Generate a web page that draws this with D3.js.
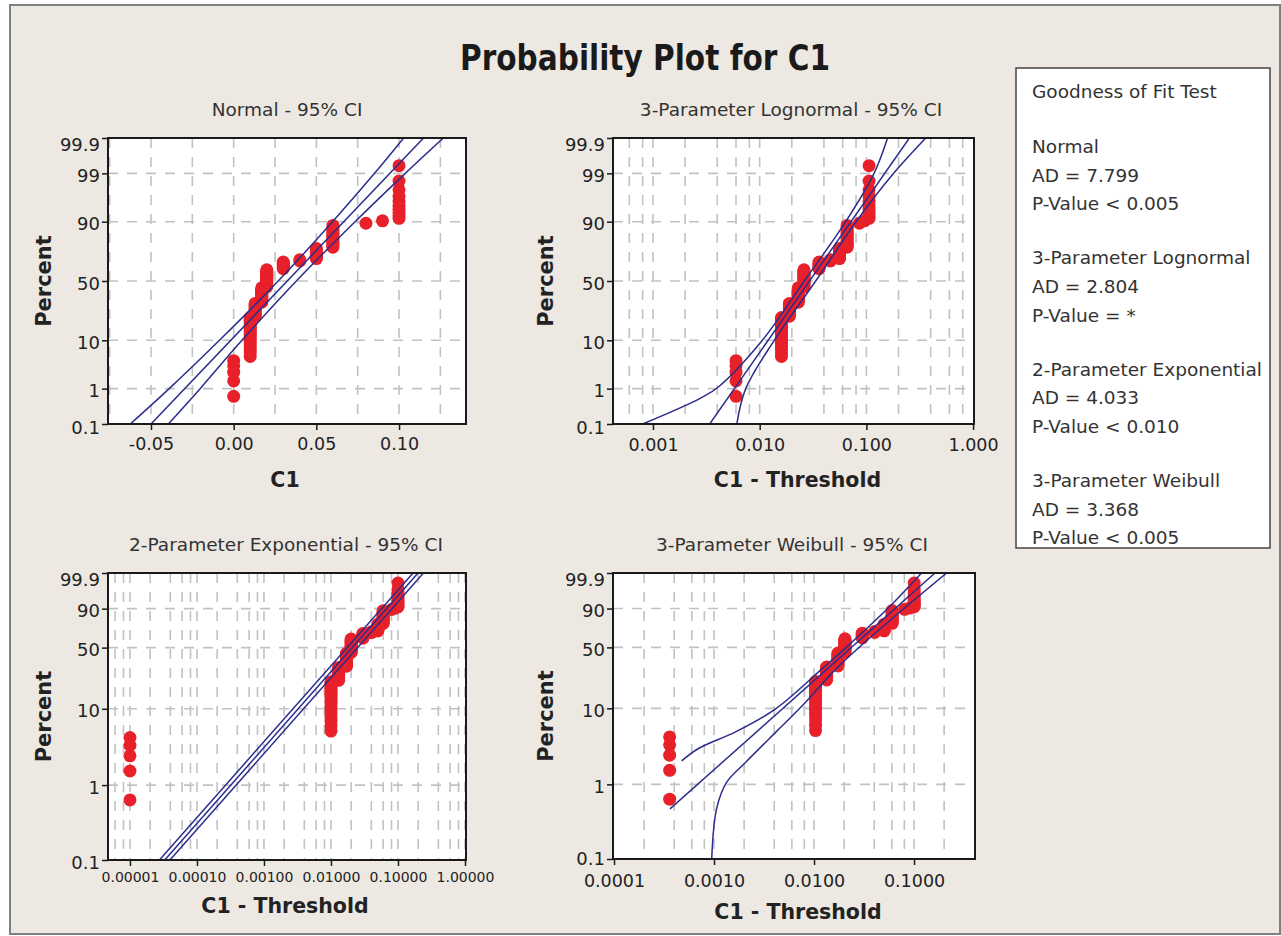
<!DOCTYPE html>
<html>
<head>
<meta charset="utf-8">
<script src="https://cdn.jsdelivr.net/npm/d3@7"></script>
<style>
  body { margin: 0; background: #fff; }
  text { font-family: "DejaVu Sans", sans-serif; }
</style>
</head>
<body>
<div id="chart"></div>
<script>
// sample C1 : distinct values and how many times each one occurs
const c1Values = [0, 0.01, 0.013, 0.017, 0.02, 0.03, 0.04, 0.05, 0.06, 0.08, 0.09, 0.10];
const c1Counts = [5, 19, 11, 14, 17, 7, 2, 9, 14, 1, 1, 10];

const panelTitles = ['Normal - 95% CI', '3-Parameter Lognormal - 95% CI',
  '2-Parameter Exponential - 95% CI', '3-Parameter Weibull - 95% CI'];
const xTitles = ['C1', 'C1 - Threshold', 'C1 - Threshold', 'C1 - Threshold'];
const thresholds = [0, -0.006, -0.00001, -0.00036];

// percent ticks
const normalPct = [0.1, 1, 10, 50, 90, 99, 99.9];
const weibullPct = [0.1, 1, 10, 50, 90, 99.9];

// x ticks
const normalXTicks = [-0.05, 0, 0.05, 0.10];
const normalGridX = [-0.075, -0.05, -0.025, 0, 0.025, 0.05, 0.075, 0.10, 0.125];
const lognormXTicks = [0.001, 0.01, 0.1, 1];
const expXTicks = [0.00001, 0.0001, 0.001, 0.01, 0.1, 1];
const weibXTicks = [0.0001, 0.001, 0.01, 0.1];

// fitted line and 95% CI, [x, percent] pairs
const normalFit = [[-0.050, 0.1], [0.1148, 99.9]];
const normalUpper = [[-0.0625, 0.1], [-0.0390, 1], [-0.0086, 10], [0.0269, 50], [0.0598, 90], [0.0852, 99], [0.1028, 99.9]];
const normalLower = [[-0.0395, 0.1], [-0.0203, 1], [0.0050, 10], [0.0379, 50], [0.0734, 90], [0.1038, 99], [0.1268, 99.9]];

const lognormFit = [[0.0034, 0.1], [0.253, 99.9]];
const lognormUpper = [[0.0008, 0.1], [0.0028, 0.57], [0.0041, 1.1], [0.0106, 10], [0.0262, 50], [0.064, 90], [0.118, 99], [0.158, 99.9]];
const lognormLower = [[0.0061, 0.1], [0.0074, 1], [0.0137, 10], [0.0335, 50], [0.080, 90], [0.180, 99], [0.36, 99.9]];

const expFit = [[3.3e-5, 0.1], [0.199, 99.9]];
const expUpper = [[2.75e-5, 0.1], [0.168, 99.9]];
const expLower = [[3.95e-5, 0.1], [0.240, 99.9]];

const weibFit = [[0.000363, 0.47], [0.162, 99.9]];
const weibUpper = [[0.000475, 2.06], [0.00070, 3], [0.00166, 5], [0.0042, 10], [0.0120, 30], [0.0210, 50], [0.0545, 90], [0.119, 99.9]];
const weibLower = [[0.000948, 0.1], [0.00106, 0.47], [0.00134, 1.07], [0.0021, 2], [0.0042, 5], [0.0072, 10], [0.0166, 30], [0.0282, 50], [0.0794, 90], [0.212, 99.9]];

// goodness of fit table
const gofNames = ['Normal', '3-Parameter Lognormal', '2-Parameter Exponential', '3-Parameter Weibull'];
const gofAD = ['7.799', '2.804', '4.033', '3.368'];
const gofP = ['< 0.005', '= *', '< 0.010', '< 0.005'];

// inverse normal cdf (Acklam)
function normInv(p) {
  const a = [-3.969683028665376e+01, 2.209460984245205e+02, -2.759285104469687e+02, 1.383577518672690e+02, -3.066479806614716e+01, 2.506628277459239e+00];
  const b = [-5.447609879822406e+01, 1.615858368580409e+02, -1.556989798598866e+02, 6.680131188771972e+01, -1.328068155288572e+01];
  const c = [-7.784894002430293e-03, -3.223964580411365e-01, -2.400758277161838e+00, -2.549671750749263e+00, 4.374664141464968e+00, 2.938163982698783e+00];
  const d = [7.784695709041462e-03, 3.224671290700398e-01, 2.445134137142996e+00, 3.754408661907416e+00];
  let q, r;
  if (p < 0.02425) {
    q = Math.sqrt(-2 * Math.log(p));
    return (((((c[0]*q+c[1])*q+c[2])*q+c[3])*q+c[4])*q+c[5]) / ((((d[0]*q+d[1])*q+d[2])*q+d[3])*q+1);
  }
  if (p > 1 - 0.02425) {
    q = Math.sqrt(-2 * Math.log(1 - p));
    return -(((((c[0]*q+c[1])*q+c[2])*q+c[3])*q+c[4])*q+c[5]) / ((((d[0]*q+d[1])*q+d[2])*q+d[3])*q+1);
  }
  q = p - 0.5; r = q * q;
  return (((((a[0]*r+a[1])*r+a[2])*r+a[3])*r+a[4])*r+a[5])*q / (((((b[0]*r+b[1])*r+b[2])*r+b[3])*r+b[4])*r+1);
}

const probScale = {
  normal: p => normInv(p / 100),
  weibull: p => Math.log(-Math.log(1 - p / 100))
};

// expand sample, median ranks (Benard)
const sample = [];
c1Values.forEach((v, i) => { for (let k = 0; k < c1Counts[i]; k++) sample.push(v); });
const n = sample.length;
const points = sample.map((v, i) => ({ c1: v, pct: (i + 1 - 0.3) / (n + 0.4) * 100 }));

function logGrid(domain) {
  const out = [];
  for (let e = Math.floor(Math.log10(domain[0])); e <= Math.ceil(Math.log10(domain[1])); e++) {
    [1, 2, 4, 6, 8].forEach(m => {
      const v = m * Math.pow(10, e);
      if (v > domain[0] * 1.03 && v < domain[1] / 1.03) out.push(v);
    });
  }
  return out;
}

const panels = [
  { box: [108, 138, 466, 424], log: false, xDomain: [-0.076, 0.1405], prob: 'normal', pct: normalPct,
    xTicks: normalXTicks, gridX: normalGridX, fmt: d => d.toFixed(2), fs: 17.5, pad: 8, bottomDy: '0.55em',
    lines: [normalUpper, normalFit, normalLower], titleX: 287, percentX: 51, xTitleY: 487 },
  { box: [613, 138, 974, 424], log: true, xDomain: [0.000422, 1.02], prob: 'normal', pct: normalPct,
    xTicks: lognormXTicks, fmt: d => d.toFixed(3), fs: 17.5, pad: 9, bottomDy: '0.55em',
    lines: [lognormUpper, lognormFit, lognormLower], titleX: 791, percentX: 553, xTitleY: 487 },
  { box: [108, 573, 466, 860], log: true, xDomain: [4.7e-6, 1.035], prob: 'weibull', pct: weibullPct,
    xTicks: expXTicks, fmt: d => d.toFixed(5), fs: 14, pad: 6, bottomDy: '0.45em',
    lines: [expUpper, expFit, expLower], titleX: 286, percentX: 51, xTitleY: 913 },
  { box: [613, 573, 975, 859], log: true, xDomain: [9.77e-5, 0.407], prob: 'weibull', pct: weibullPct,
    xTicks: weibXTicks, fmt: d => d.toFixed(4), fs: 17.5, pad: 10, bottomDy: '0.3em',
    lines: [weibUpper, weibFit, weibLower], titleX: 792, percentX: 553, xTitleY: 919 }
];

const svg = d3.select('#chart').append('svg')
  .attr('width', 1281)
  .attr('height', 936);

// outer frame
svg.append('rect')
  .attr('x', 10).attr('y', 5).attr('width', 1270).attr('height', 929)
  .attr('fill', '#ede9e2').attr('stroke', '#808080').attr('stroke-width', 2);

svg.append('text')
  .attr('x', 645).attr('y', 70)
  .attr('text-anchor', 'middle')
  .attr('font-size', 36).attr('font-weight', 'bold').attr('fill', '#1a1a1a')
  .attr('textLength', 370).attr('lengthAdjust', 'spacingAndGlyphs')
  .text('Probability Plot for C1');

panels.forEach((p, pi) => {
  const [x0, y0, x1, y1] = p.box;
  const x = (p.log ? d3.scaleLog() : d3.scaleLinear()).domain(p.xDomain).range([x0, x1]);
  const tf = probScale[p.prob];
  const y = d3.scaleLinear().domain([tf(0.1), tf(99.9)]).range([y1, y0]);
  const thr = thresholds[pi];

  const g = svg.append('g');

  g.append('clipPath').attr('id', 'clip' + pi)
    .append('rect').attr('x', x0).attr('y', y0).attr('width', x1 - x0).attr('height', y1 - y0);

  g.append('rect')
    .attr('x', x0).attr('y', y0).attr('width', x1 - x0).attr('height', y1 - y0)
    .attr('fill', '#fff');

  // grid
  const gridX = p.log ? logGrid(p.xDomain) : p.gridX;
  g.append('g').selectAll('line').data(gridX).join('line')
    .attr('x1', d => x(d)).attr('x2', d => x(d))
    .attr('y1', y0).attr('y2', y1)
    .attr('stroke', '#c2c2c2').attr('stroke-width', 1.6).attr('stroke-dasharray', '10,9');

  g.append('g').selectAll('line').data(p.pct.slice(1, -1)).join('line')
    .attr('x1', x0).attr('x2', x1)
    .attr('y1', d => y(tf(d))).attr('y2', d => y(tf(d)))
    .attr('stroke', '#c2c2c2').attr('stroke-width', 1.6).attr('stroke-dasharray', '10,9');

  const inner = g.append('g').attr('clip-path', `url(#clip${pi})`);

  // data points
  inner.append('g').selectAll('circle').data(points).join('circle')
    .attr('cx', d => x(d.c1 - thr))
    .attr('cy', d => y(tf(d.pct)))
    .attr('r', 6.5)
    .attr('fill', '#e8202a');

  // fit and CI
  const line = d3.line()
    .x(d => x(d[0]))
    .y(d => y(tf(d[1])))
    .curve(d3.curveCatmullRom.alpha(0.5));
  inner.append('g').selectAll('path').data(p.lines).join('path')
    .attr('d', line)
    .attr('fill', 'none')
    .attr('stroke', '#2a2d8c')
    .attr('stroke-width', 1.5);

  g.append('rect')
    .attr('x', x0).attr('y', y0).attr('width', x1 - x0).attr('height', y1 - y0)
    .attr('fill', 'none').attr('stroke', '#1a1a1a').attr('stroke-width', 2);

  // axes
  const xa = g.append('g')
    .attr('transform', `translate(0, ${y1})`)
    .call(d3.axisBottom(x).tickValues(p.xTicks).tickFormat(p.fmt).tickSize(6).tickPadding(p.pad));
  xa.select('.domain').remove();
  xa.selectAll('line').attr('stroke', '#1a1a1a').attr('stroke-width', 1.5);
  xa.selectAll('text').attr('font-size', p.fs).attr('fill', '#222').attr('font-family', '"DejaVu Sans", sans-serif');

  const ya = g.append('g')
    .attr('transform', `translate(${x0}, 0)`)
    .call(d3.axisLeft(y).tickValues(p.pct.map(tf)).tickFormat((d, i) => String(p.pct[i])).tickSize(6).tickPadding(2));
  ya.select('.domain').remove();
  ya.selectAll('line').attr('stroke', '#1a1a1a').attr('stroke-width', 1.5);
  const top = p.pct.length - 1;
  // the end labels sit a little inside the box, like the original
  ya.selectAll('text')
    .attr('font-size', 18).attr('fill', '#222').attr('font-family', '"DejaVu Sans", sans-serif')
    .attr('dy', (d, i) => i === top ? '0.7em' : (i === 0 ? p.bottomDy : '0.45em'));

  // titles
  g.append('text')
    .attr('x', p.titleX).attr('y', y0 - 22)
    .attr('text-anchor', 'middle').attr('font-size', 18.5).attr('fill', '#333')
    .text(panelTitles[pi]);

  g.append('text')
    .attr('transform', `translate(${p.percentX}, ${(y0 + y1) / 2}) rotate(-90)`)
    .attr('text-anchor', 'middle').attr('font-size', 21).attr('font-weight', 'bold').attr('fill', '#222')
    .text('Percent');

  g.append('text')
    .attr('x', (x0 + x1) / 2 + (pi % 2 ? 4 : -2)).attr('y', p.xTitleY)
    .attr('text-anchor', 'middle').attr('font-size', 20.5).attr('font-weight', 'bold').attr('fill', '#222')
    .text(xTitles[pi]);
});

// goodness of fit box
svg.append('rect')
  .attr('x', 1016).attr('y', 68).attr('width', 254).attr('height', 480)
  .attr('fill', '#fff').attr('stroke', '#444').attr('stroke-width', 1.5);

const gof = svg.append('g').attr('font-size', 18.5).attr('fill', '#333');
gof.append('text').attr('x', 1032).attr('y', 98).text('Goodness of Fit Test');
gofNames.forEach((name, i) => {
  const top = 153 + i * 111.3;
  gof.append('text').attr('x', 1032).attr('y', top).text(name);
  gof.append('text').attr('x', 1032).attr('y', top + 28.7).text('AD = ' + gofAD[i]);
  gof.append('text').attr('x', 1032).attr('y', top + 57.4).text('P-Value ' + gofP[i]);
});
</script>
</body>
</html>
